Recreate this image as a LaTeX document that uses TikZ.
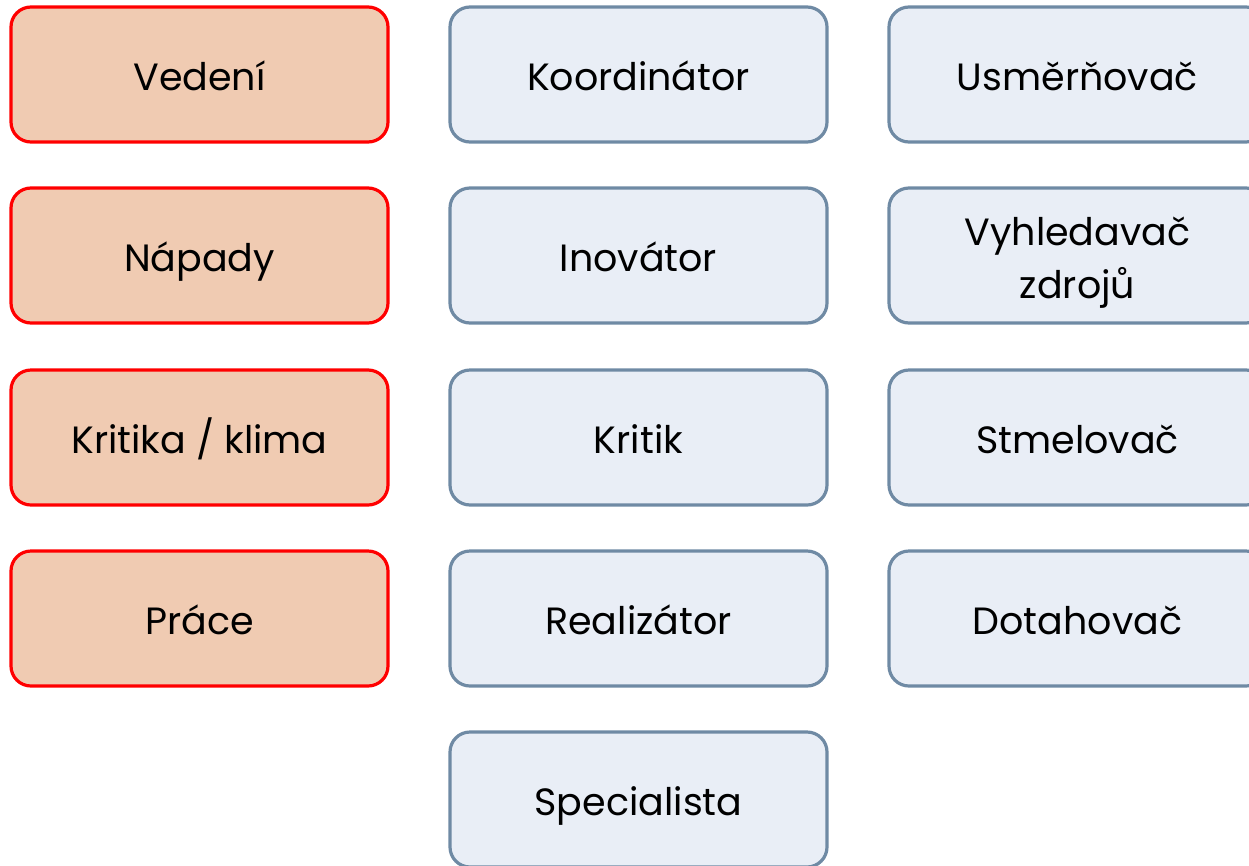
\documentclass[tikz,border=0pt]{standalone}
\usepackage{fontspec}
\setmainfont{Poppins}
\definecolor{peach}{HTML}{F0CBB2}
\definecolor{redline}{HTML}{FF0000}
\definecolor{bluefill}{HTML}{E9EEF6}
\definecolor{blueline}{HTML}{6F8AA4}
\begin{document}
\begin{tikzpicture}[x=1pt,y=-1pt,
  boxbase/.style={rounded corners=20pt, line width=3.2pt, minimum width=377pt, minimum height=135pt, align=center, inner sep=0pt, text height=31pt, text depth=0pt, font=\fontsize{38}{53}\selectfont},
  redbox/.style={boxbase, draw=redline, fill=peach},
  bluebox/.style={boxbase, draw=blueline, fill=bluefill}]
\useasboundingbox (0,0) rectangle (1249,865);
\clip (0,0) rectangle (1249,865);
\node[redbox] (vedeni) at (199.5,74.5) {Vedení};
\node[redbox] (napady) at (199.5,255.5) {Nápady};
\node[redbox] (kritika) at (199.5,437.5) {Kritika / klima};
\node[redbox] (prace) at (199.5,618.5) {Práce};
\node[bluebox] (koord) at (638.5,74.5) {Koordinátor};
\node[bluebox] (inov) at (638.5,255.5) {Inovátor};
\node[bluebox] (kritik) at (638.5,437.5) {Kritik};
\node[bluebox] (real) at (638.5,618.5) {Realizátor};
\node[bluebox] (spec) at (638.5,799.5) {Specialista};
\node[bluebox] (usm) at (1077.5,74.5) {Usměrňovač};
\node[bluebox, text height=85pt] (vyhl) at (1077.5,255.5) {Vyhledavač\\zdrojů};
\node[bluebox] (stmel) at (1077.5,437.5) {Stmelovač};
\node[bluebox] (dotah) at (1077.5,618.5) {Dotahovač};
\end{tikzpicture}
\end{document}
